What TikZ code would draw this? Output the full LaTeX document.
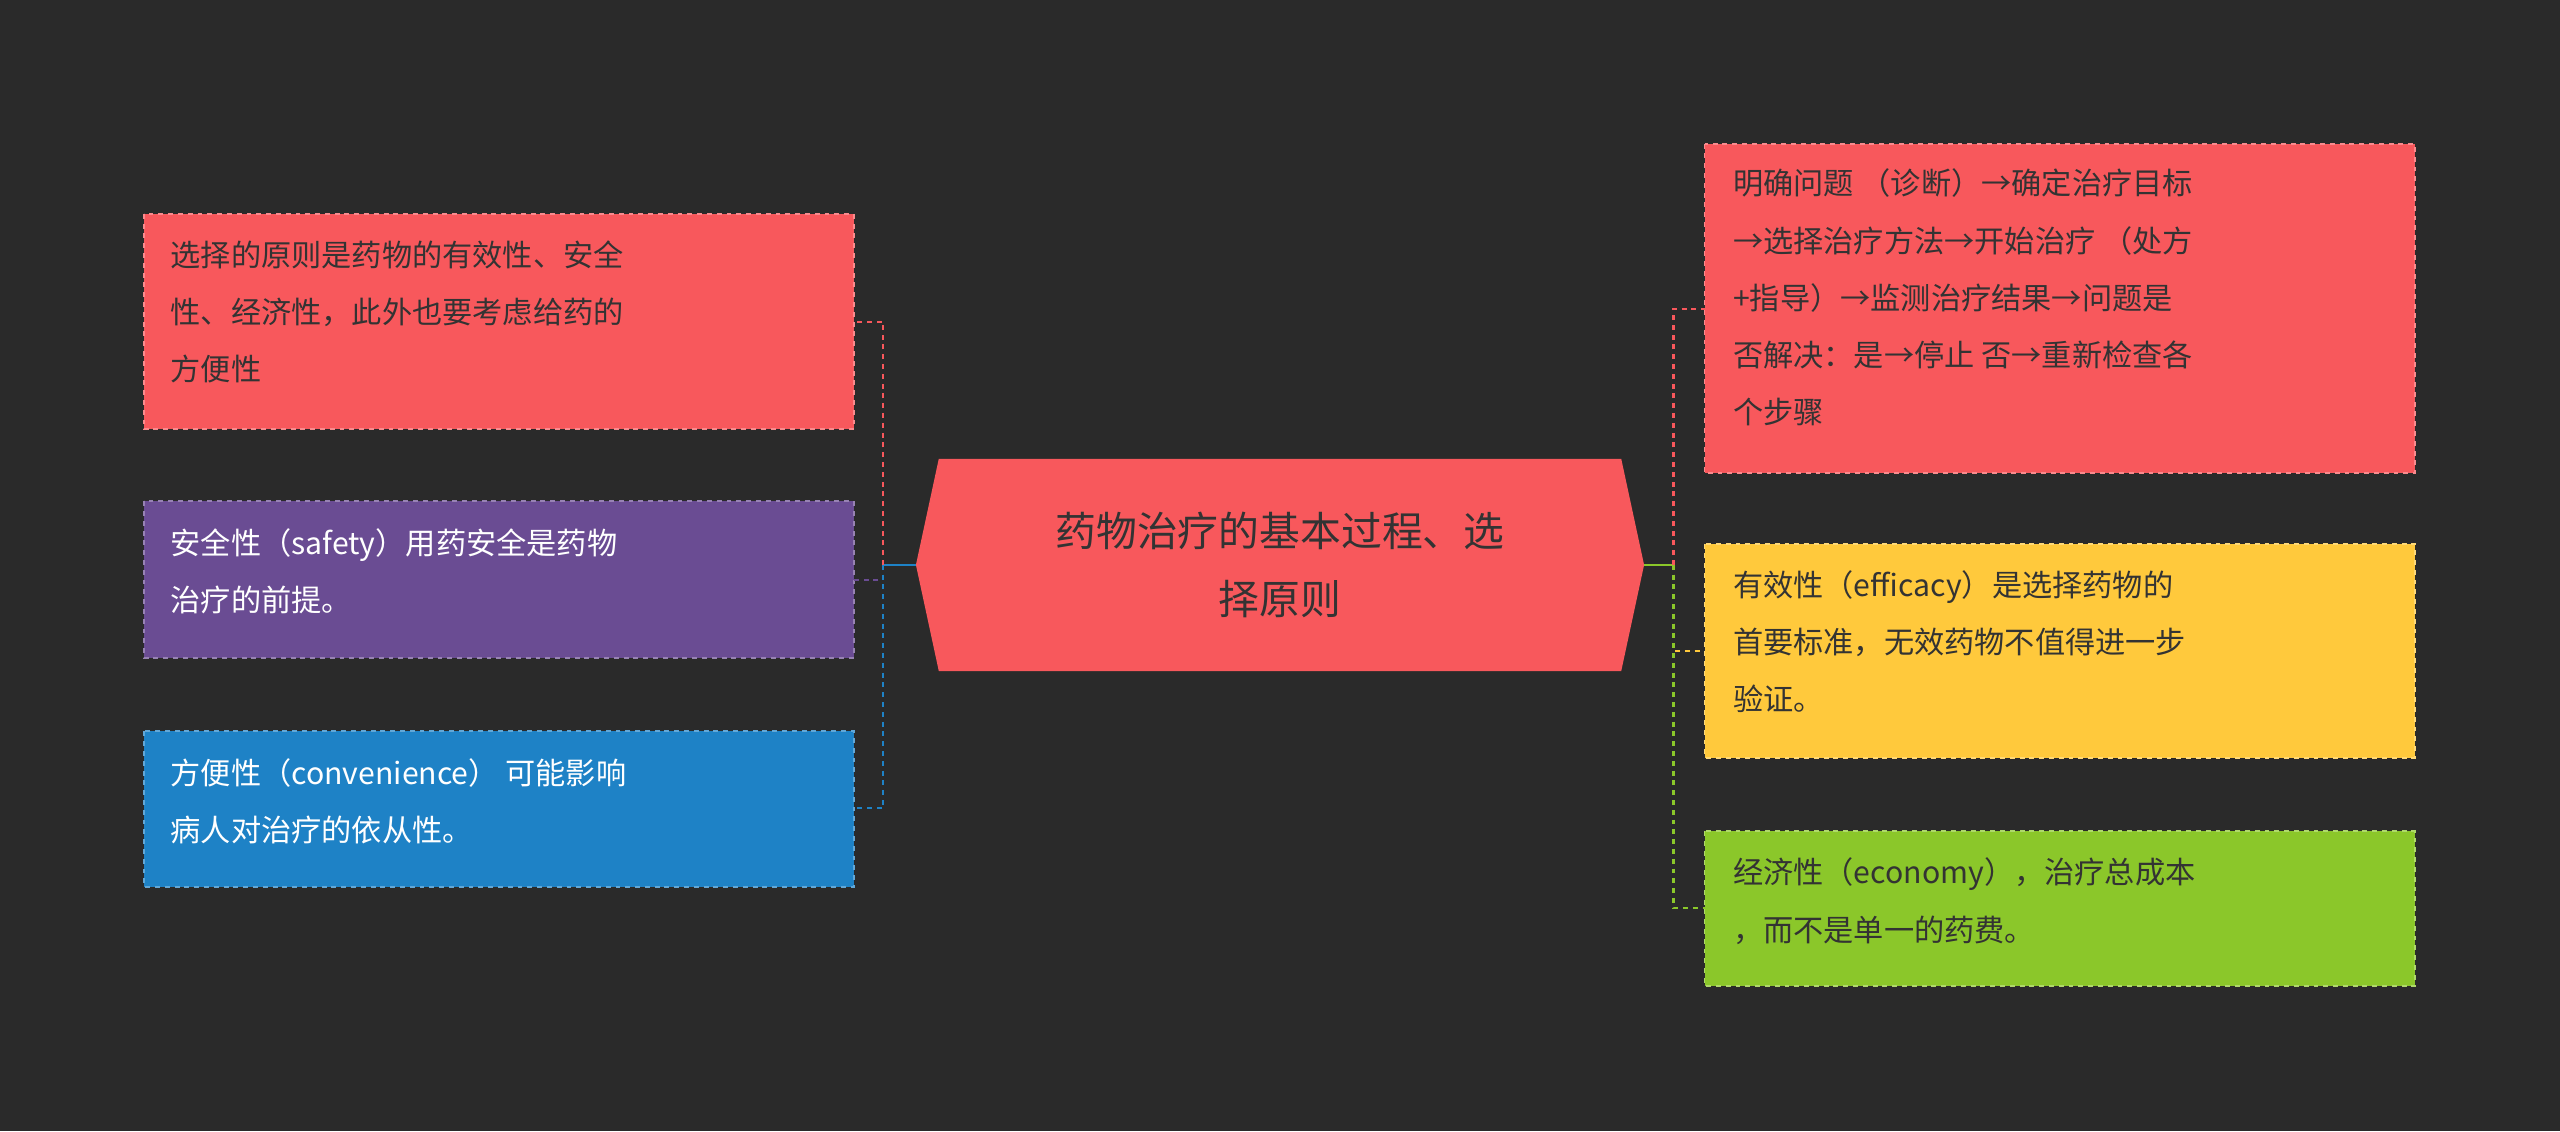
\documentclass[tikz,border=0pt]{standalone}
\usepackage{fontspec}
\setmainfont{Noto Sans CJK SC}
\begin{document}
\begin{tikzpicture}[x=1pt,y=-1pt,
  box/.style={draw=#1!70!white,dashed,line width=1.2pt,anchor=north west,inner sep=0pt},
  txt/.style={anchor=north west,align=left,font=\fontsize{18.5}{35}\selectfont,text=#1},
  con/.style={dashed,line width=1.3pt,draw=#1}]
\definecolor{bg}{HTML}{2A2A2A}
\definecolor{cred}{HTML}{F8585C}
\definecolor{cpur}{HTML}{6A4C93}
\definecolor{cblu}{HTML}{1E82C6}
\definecolor{cyel}{HTML}{FFC93C}
\definecolor{cgrn}{HTML}{8BC72A}
\definecolor{dk}{HTML}{333333}
\fill[bg] (0,0) rectangle (1568,693);
\useasboundingbox (0,0) rectangle (1568,693);
% boxes
\path[box=cred,fill=cred] (88,131) rectangle (523,263);
\path[box=cpur,fill=cpur] (88,307) rectangle (523,403);
\path[box=cblu,fill=cblu] (88,448) rectangle (523,543);
\path[box=cred,fill=cred] (1044,88) rectangle (1479,290);
\path[box=cyel,fill=cyel] (1044,333) rectangle (1479,464);
\path[box=cgrn,fill=cgrn] (1044,509) rectangle (1479,604);
\coordinate (l1) at (523,197); \coordinate (l2) at (523,355); \coordinate (l3) at (523,495);
\coordinate (r1) at (1044,189); \coordinate (r2) at (1044,399); \coordinate (r3) at (1044,556);
% center
\fill[cred] (561,346) -- (575,281) -- (993,281) -- (1007,346) -- (993,411) -- (575,411) -- cycle;
\coordinate (cl) at (561,346); \coordinate (cr) at (1007,346);
\node[font=\fontsize{25}{42}\selectfont,text=dk,align=center] (c) at (784,346) {药物治疗的基本过程、选\\择原则};
% connectors
\draw[line width=1.3pt,cblu] (cl) -- (541,346);
\draw[con=cred] (541,346) -- (541,197) -- (l1);
\draw[con=cpur] (541,346) -- (541,355) -- (l2);
\draw[con=cblu] (541,346) -- (541,495) -- (l3);
\draw[line width=1.3pt,cgrn] (cr) -- (1025,346);
\draw[con=cred] (1025,346) -- (1025,189) -- (r1);
\draw[con=cyel] (1025,346) -- (1025,399) -- (r2);
\draw[con=cgrn] (1025,346) -- (1025,556) -- (r3);
% texts
\node[txt=dk] (t1) at (101,144) {选择的原则是药物的有效性、安全\\性、经济性，此外也要考虑给药的\\方便性};
\node[txt=white] (t2) at (101,320) {安全性（safety）用药安全是药物\\治疗的前提。};
\node[txt=white] (t3) at (101,461) {方便性（convenience） 可能影响\\病人对治疗的依从性。};
\node[txt=dk] (t4) at (1058,100) {明确问题 （诊断）→确定治疗目标\\→选择治疗方法→开始治疗 （处方\\+指导）→监测治疗结果→问题是\\否解决：是→停止 否→重新检查各\\个步骤};
\node[txt=dk] (t5) at (1058,346) {有效性（efficacy）是选择药物的\\首要标准，无效药物不值得进一步\\验证。};
\node[txt=dk] (t6) at (1058,522) {经济性（economy），治疗总成本\\，而不是单一的药费。};
\end{tikzpicture}
\end{document}
